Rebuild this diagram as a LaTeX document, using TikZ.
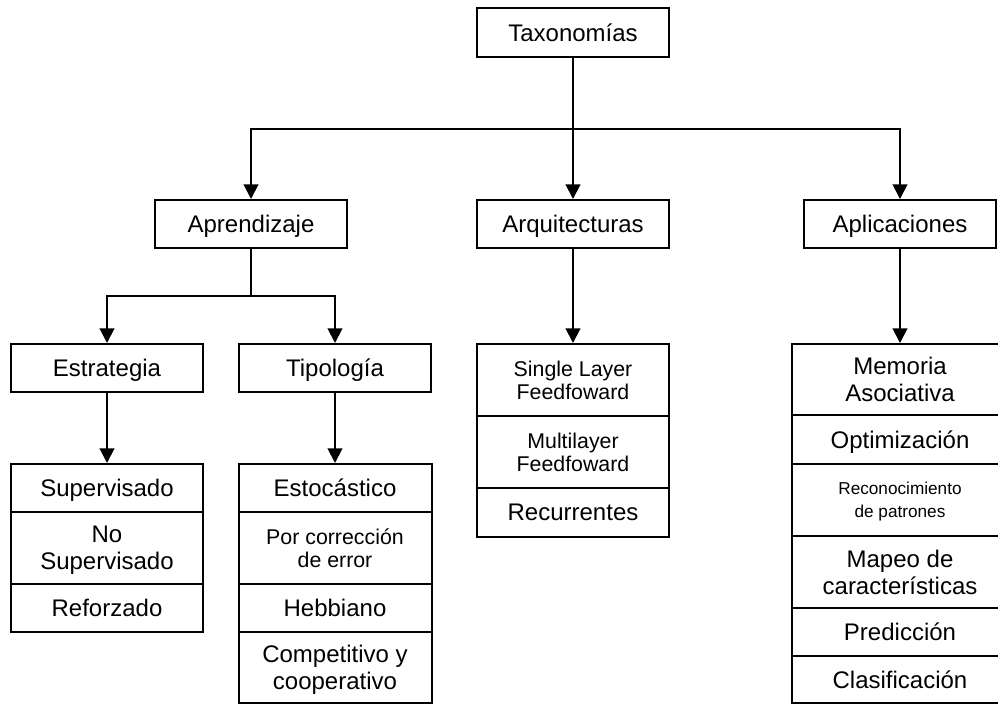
\documentclass[tikz,border=0pt]{standalone}
\usepackage{fontspec}
\setmainfont{Liberation Sans}
\usetikzlibrary{arrows.meta}
\def\pu{0.75pt}
\newcommand\fbig{\fontsize{18pt}{20.2pt}\selectfont}
\newcommand\fmed{\fontsize{16pt}{17.2pt}\selectfont}
\newcommand\fsml{\fontsize{12.9pt}{17.4pt}\selectfont}
\begin{document}
\begin{tikzpicture}[x=0.75pt,y=-0.75pt,
  box/.style={draw, line width=1.5pt, inner sep=0pt, align=center,
    text depth=0pt, font=\fbig, minimum width=192*\pu, minimum height=48*\pu},
  link/.style={line width=1.5pt},
  arr/.style={line width=1.5pt, -{Triangle[length=11pt,width=11pt]}}]
\clip (0,0) rectangle (998,704);

% top levels
\node[box, minimum height=49*\pu] (tax) at (573,32.5) {Taxonomías};
\node[box] (apr) at (251,224) {Aprendizaje};
\node[box] (arq) at (573,224) {Arquitecturas};
\node[box] (apl) at (900,224) {Aplicaciones};
\node[box] (est) at (107,368) {Estrategia};
\node[box] (tip) at (335,368) {Tipología};

% learning strategy
\node[box] (sup) at (107,488) {Supervisado};
\node[box, minimum height=72*\pu] (nosup) at (107,548) {No\\Supervisado};
\node[box] (refo) at (107,608) {Reforzado};

% learning typology
\node[box, minimum width=193*\pu] (esto) at (335,488) {Estocástico};
\node[box, minimum width=193*\pu, minimum height=72*\pu, font=\fmed] (porc) at (335,548) {Por corrección\\de error};
\node[box, minimum width=193*\pu] (hebb) at (335,608) {Hebbiano};
\node[box, minimum width=193*\pu, minimum height=71*\pu] (comp) at (335,667.5) {Competitivo y\\cooperativo};

% architectures
\node[box, minimum height=72*\pu, font=\fmed] (sl) at (573,380) {Single Layer\\Feedfoward};
\node[box, minimum height=72*\pu, font=\fmed] (ml) at (573,452) {Multilayer\\Feedfoward};
\node[box, minimum height=49*\pu] (rec) at (573,512.5) {Recurrentes};

% applications
\node[box, minimum width=216*\pu, minimum height=71*\pu] (mem) at (900,379.5) {Memoria\\Asociativa};
\node[box, minimum width=216*\pu, minimum height=49*\pu] (opt) at (900,439.5) {Optimización};
\node[box, minimum width=216*\pu, minimum height=72*\pu, font=\fsml] (reco) at (900,500) {Reconocimiento\\de patrones};
\node[box, minimum width=216*\pu, minimum height=72*\pu] (map) at (900,572) {Mapeo de\\características};
\node[box, minimum width=216*\pu] (pred) at (900,632) {Predicción};
\node[box, minimum width=216*\pu, minimum height=47*\pu] (clas) at (900,679.5) {Clasificación};

% connectors
\coordinate (j1) at (573,129);
\coordinate (j2) at (251,296);
\draw[link] (tax) -- (j1);
\draw[arr] (j1) -| (apr);
\draw[arr] (j1) -- (arq);
\draw[arr] (j1) -| (apl);
\draw[link] (apr) -- (j2);
\draw[arr] (j2) -| (est);
\draw[arr] (j2) -| (tip);
\draw[arr] (est) -- (sup);
\draw[arr] (tip) -- (esto);
\draw[arr] (arq) -- (sl);
\draw[arr] (apl) -- (mem);
\end{tikzpicture}
\end{document}
